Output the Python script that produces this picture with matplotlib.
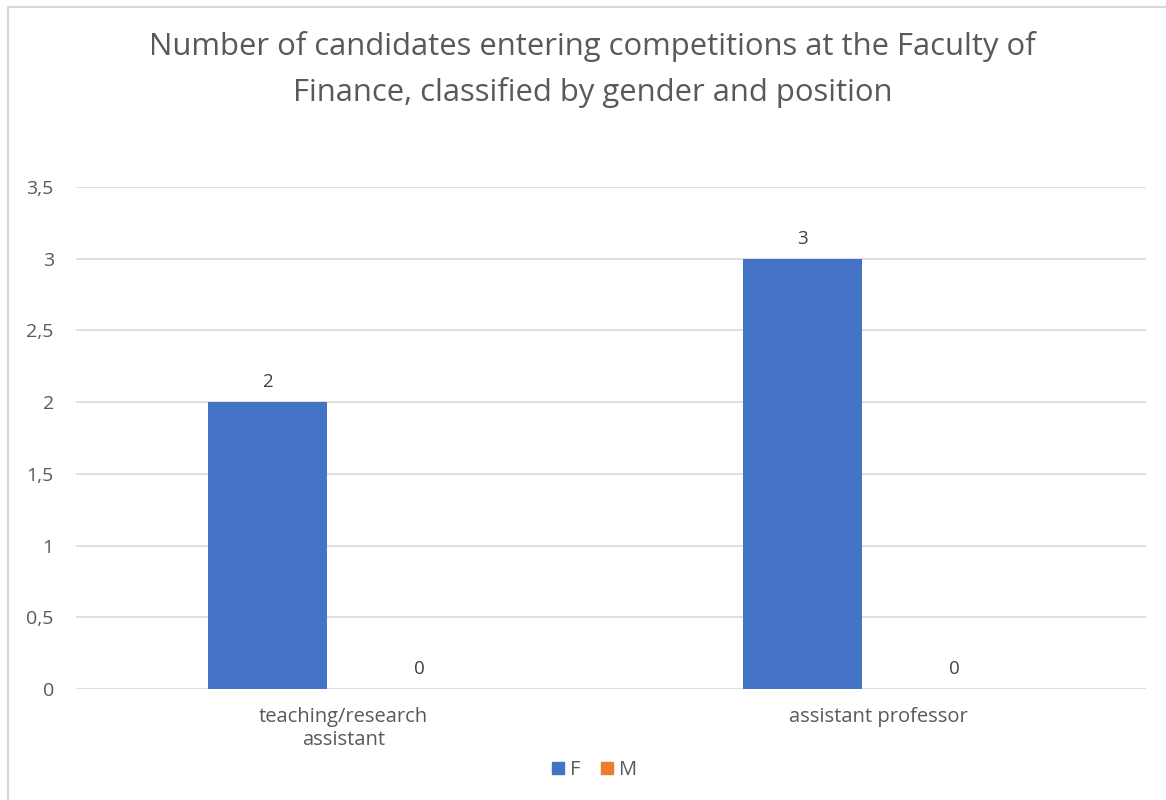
import numpy as np
import matplotlib.pyplot as plt
from matplotlib.lines import Line2D
from matplotlib.ticker import FuncFormatter

categories = ["teaching/research\nassistant", "assistant professor"]
series_names = ["F", "M"]
f_values = [2, 3]
m_values = [0, 0]
yticks = [0, 0.5, 1, 1.5, 2, 2.5, 3, 3.5]

blue = "#4472C4"
orange = "#ED7D31"
text_gray = "#595959"

plt.rcParams['font.family'] = ['Open Sans', 'DejaVu Sans']

fig = plt.figure(figsize=(11.66, 8), dpi=100)
ax = fig.add_axes([0.0652, 0.13875, 0.9176, 0.6275])

x = np.arange(len(categories))
w = 0.224
off = 0.142
bars_f = ax.bar(x - off, f_values, w, color=blue, label=series_names[0], zorder=3)
bars_m = ax.bar(x + off, m_values, w, color=orange, label=series_names[1], zorder=3)

for bars in (bars_f, bars_m):
    for b in bars:
        h = b.get_height()
        ax.annotate(f"{h:g}", (b.get_x() + b.get_width() / 2, h), xytext=(0, 8),
                    textcoords="offset points", ha="center", va="bottom",
                    fontsize=13.5, color="#404040")

ax.set_xlim(-0.5, 1.5)
ax.set_ylim(0, 3.5)
ax.set_yticks(yticks)
ax.yaxis.set_major_formatter(FuncFormatter(lambda v, p: f"{v:g}".replace(".", ",")))
ax.set_xticks(x)
ax.set_xticklabels(categories, linespacing=1.2)
ax.tick_params(axis="y", length=0, pad=16, labelsize=14, labelcolor=text_gray)
ax.tick_params(axis="x", length=0, pad=13, labelsize=14.5, labelcolor=text_gray)
ax.grid(axis="y", color="#D9D9D9", linewidth=1.2, zorder=0)
for s in ax.spines.values():
    s.set_visible(False)

fig.text(0.508, 0.913, "Number of candidates entering competitions at the Faculty of\nFinance, classified by gender and position",
         ha="center", va="center", fontsize=22.3, color=text_gray, linespacing=1.6)

handles = [Line2D([], [], marker="s", linestyle="", markersize=8, color=blue),
           Line2D([], [], marker="s", linestyle="", markersize=8, color=orange)]
fig.legend(handles, series_names, loc="center", bbox_to_anchor=(0.508, 0.037), ncol=2,
           frameon=False, fontsize=14.5, labelcolor=text_gray, handletextpad=0.1,
           columnspacing=0.8, handlelength=1.0)

# chart border (left and top edges visible)
fig.add_artist(Line2D([0.007, 0.007], [0, 0.991], color="#D9D9D9", linewidth=1.5, transform=fig.transFigure))
fig.add_artist(Line2D([0.007, 1.0], [0.991, 0.991], color="#D9D9D9", linewidth=1.5, transform=fig.transFigure))

fig.savefig("out.png", dpi=100, facecolor="white")
